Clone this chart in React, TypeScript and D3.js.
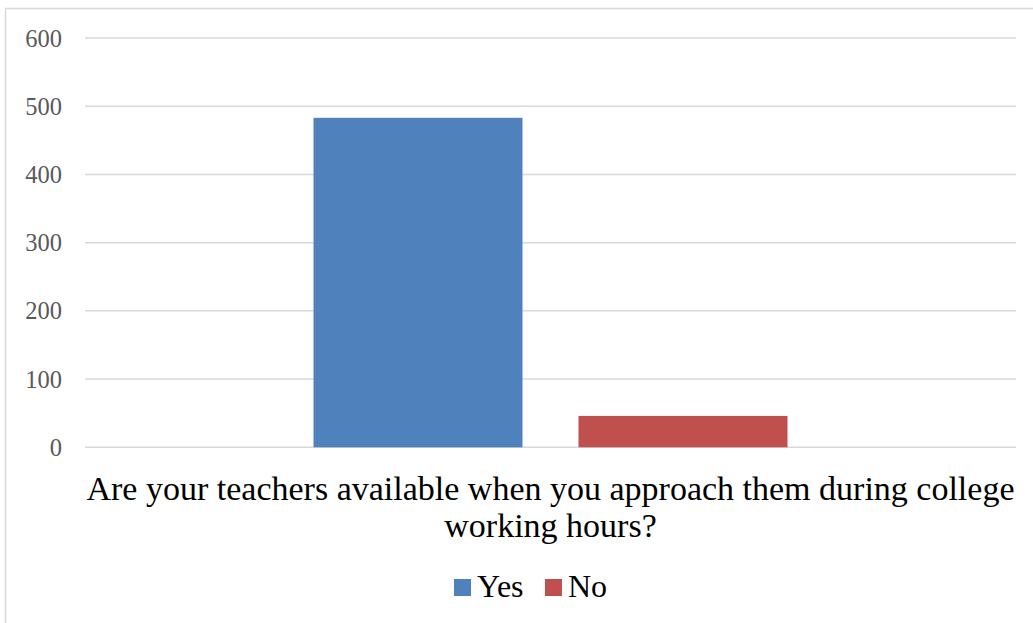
import React from "react";
import * as d3 from "d3";

const categories = ["Are your teachers available when you approach them during college working hours?"];
const seriesNames = ["Yes", "No"];
const seriesValues = [483, 46];
const seriesColors = ["#4f81bd", "#c0504d"];
const yTicks = [0, 100, 200, 300, 400, 500, 600];
const labelLines = ["Are your teachers available when you approach them during college", "working hours?"];

export default function App() {
  const W = 1033, H = 623;
  const left = 85, right = 1016, top = 38, bottom = 447.3;
  const y = d3.scaleLinear().domain([0, 600]).range([bottom, top]);
  const x0 = d3.scaleBand().domain(categories).range([left, right]).paddingInner(0).paddingOuter(0);
  const groupW = 474;
  const x1 = d3.scaleBand().domain(seriesNames).range([0, groupW]).paddingInner(56 / 265).paddingOuter(0);
  const font = "'Liberation Serif', 'Times New Roman', serif";
  const cx = (left + right) / 2;
  const legendItems = [
    { name: seriesNames[0], color: seriesColors[0], x: 454 },
    { name: seriesNames[1], color: seriesColors[1], x: 545 },
  ];
  return (
    <svg width={W} height={H} style={{ position: "absolute", left: 0, top: 0, background: "#fff" }}>
      <rect x={5.5} y={8.5} width={W + 10} height={H + 10} fill="#fff" stroke="#d9d9d9" strokeWidth={1.5} />
      {yTicks.map((t) => (
        <g key={t}>
          <line x1={left} x2={right} y1={y(t)} y2={y(t)} stroke="#d9d9d9" strokeWidth={1.5} />
          <text x={62} y={y(t)} dy="0.35em" textAnchor="end" fontFamily={font} fontSize={24.5} fill="#595959">
            {t}
          </text>
        </g>
      ))}
      {categories.map((c) => {
        const gx = (x0(c) as number) + (x0.bandwidth() - groupW) / 2;
        return (
          <g key={c}>
            {seriesNames.map((s, i) => (
              <rect
                key={s}
                x={gx + (x1(s) as number)}
                y={y(seriesValues[i])}
                width={x1.bandwidth()}
                height={bottom - y(seriesValues[i])}
                fill={seriesColors[i]}
              />
            ))}
          </g>
        );
      })}
      {labelLines.map((l, i) => (
        <text key={i} x={cx} y={500 + i * 37} textAnchor="middle" fontFamily={font} fontSize={34} fill="#000">
          {l}
        </text>
      ))}
      {legendItems.map((it) => (
        <g key={it.name}>
          <rect x={it.x} y={579} width={17} height={17} fill={it.color} />
          <text x={it.x + 23} y={597} fontFamily={font} fontSize={32} fill="#000">
            {it.name}
          </text>
        </g>
      ))}
    </svg>
  );
}
